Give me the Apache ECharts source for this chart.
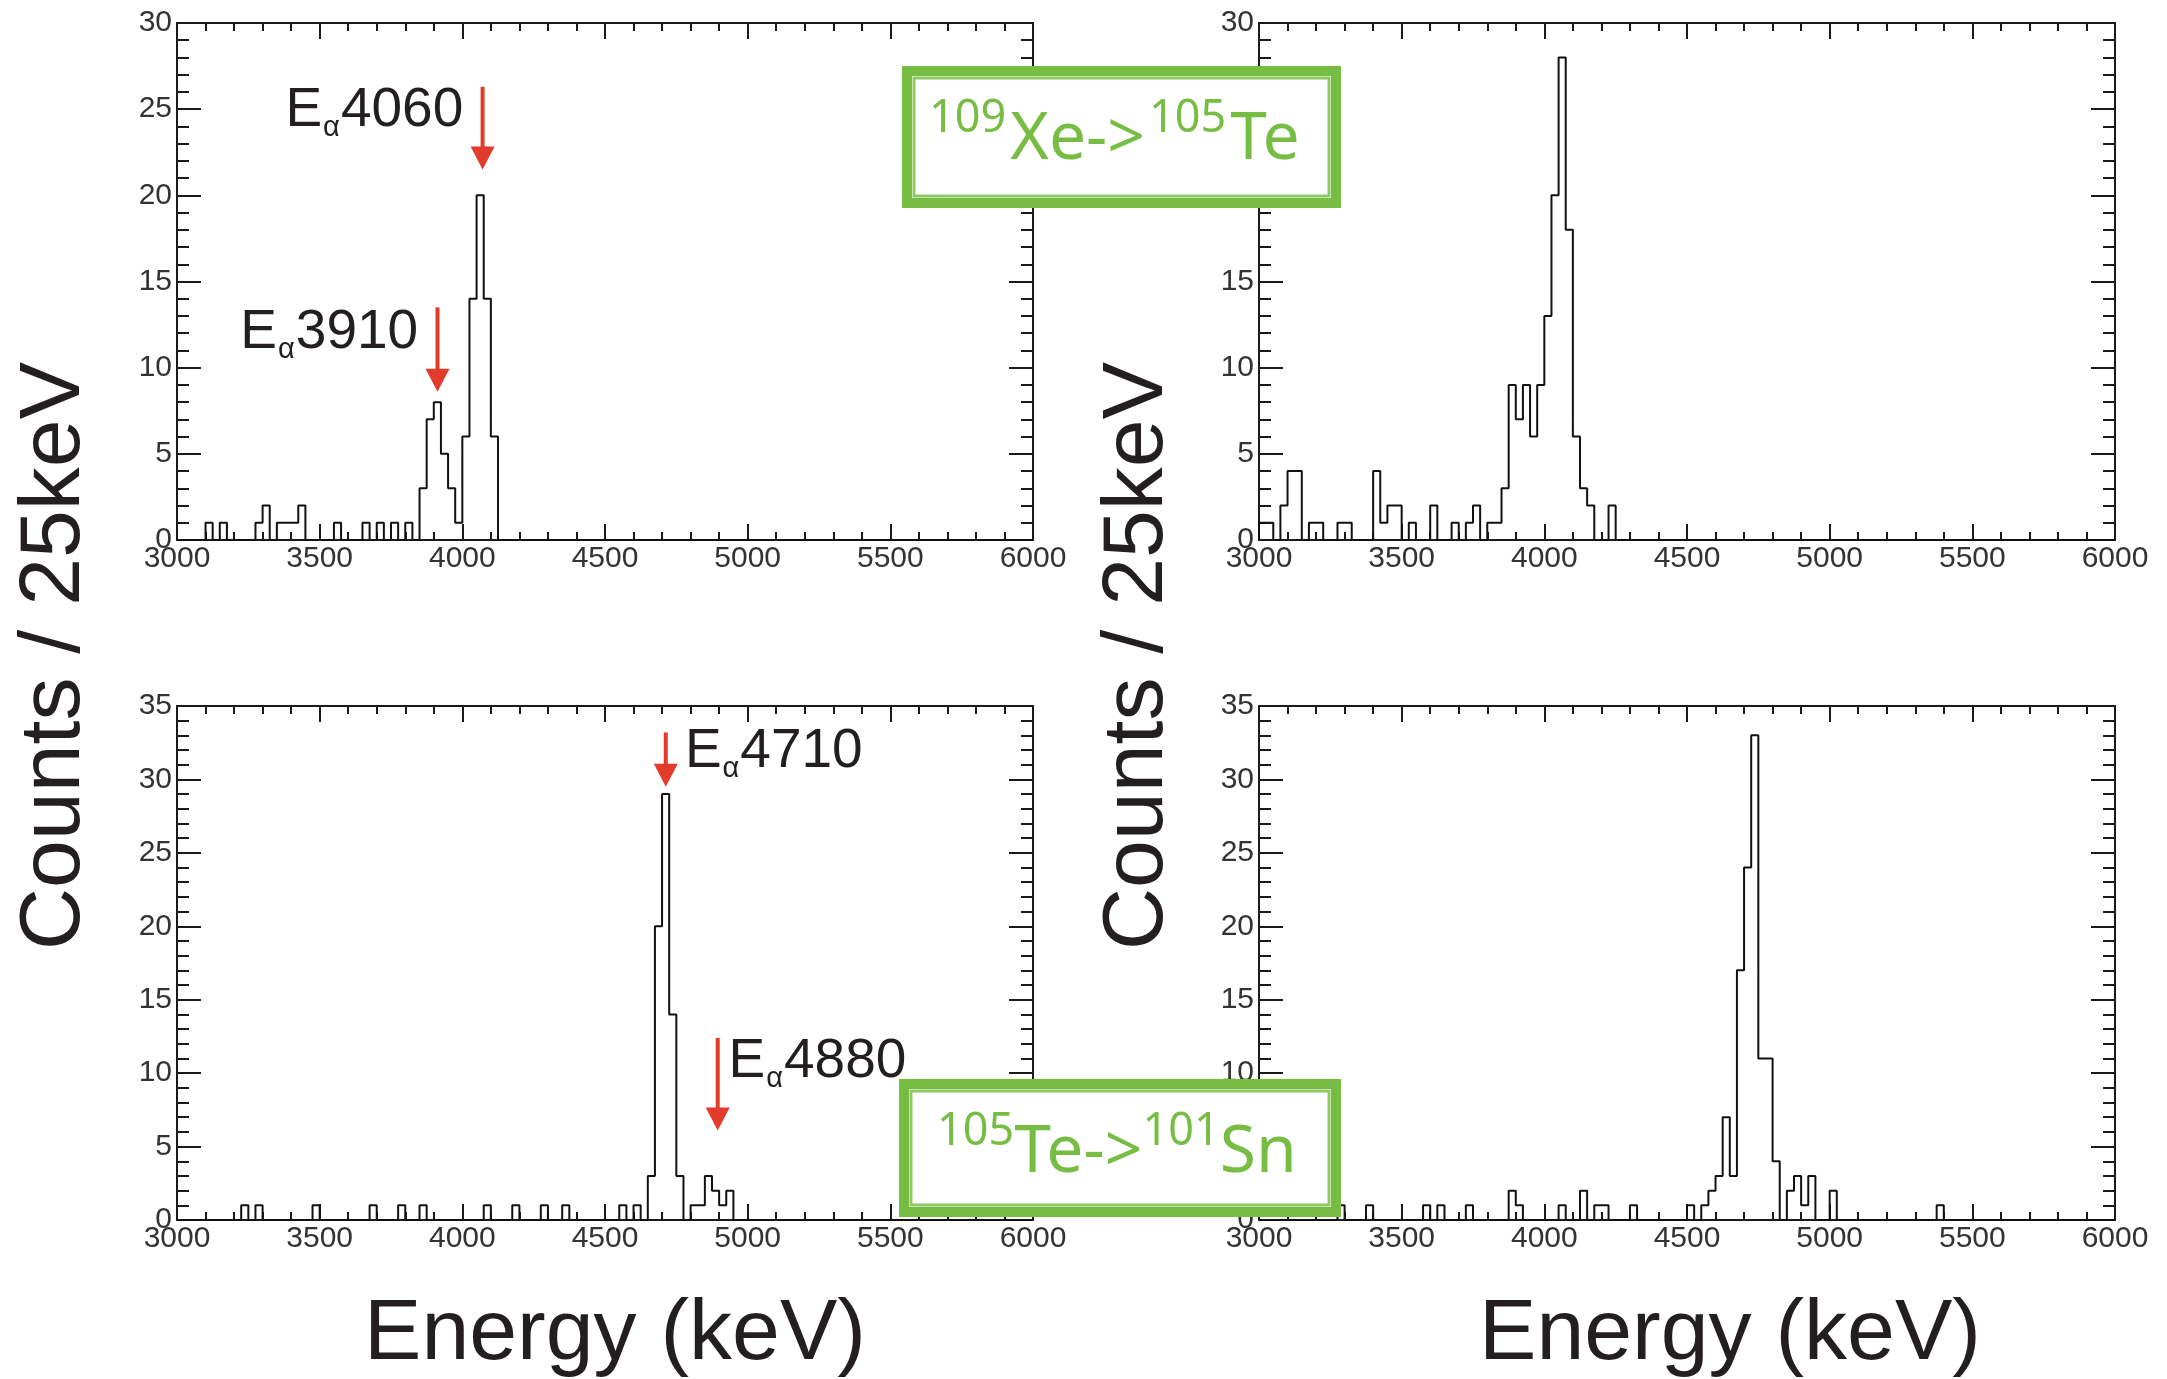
<!DOCTYPE html>
<html><head><meta charset="utf-8">
<script src="https://cdn.jsdelivr.net/npm/echarts@6/dist/echarts.min.js"></script>
<style>html,body{margin:0;padding:0;background:#fff}#c{width:2167px;height:1379px}</style>
</head><body><div id="c"></div>
<script>
// ---------- data ----------
const energyMin = 3000, energyMax = 6000, binWidth = 25;
const xTickStep = 500;
const yMaxTop = 30, yMaxBottom = 35, yTickStep = 5;

// counts per 25 keV bin, 3000..6000 keV (120 bins)
const countsTopLeft = [
  0,0,0,0,1,0,1,0,0,0, 0,1,2,0,1,1,1,2,0,0,
  0,0,1,0,0,0,1,0,1,0, 1,0,1,0,3,7,8,5,3,1,
  6,14,20,14,6,0,0,0,0,0, 0,0,0,0,0,0,0,0,0,0,
  0,0,0,0,0,0,0,0,0,0, 0,0,0,0,0,0,0,0,0,0,
  0,0,0,0,0,0,0,0,0,0, 0,0,0,0,0,0,0,0,0,0,
  0,0,0,0,0,0,0,0,0,0, 0,0,0,0,0,0,0,0,0,0
];
const countsTopRight = [
  1,1,0,2,4,4,0,1,1,0, 0,1,1,0,0,0,4,1,2,2,
  0,1,0,0,2,0,0,1,0,1, 2,0,1,1,3,9,7,9,6,9,
  13,20,28,18,6,3,2,0,0,2, 0,0,0,0,0,0,0,0,0,0,
  0,0,0,0,0,0,0,0,0,0, 0,0,0,0,0,0,0,0,0,0,
  0,0,0,0,0,0,0,0,0,0, 0,0,0,0,0,0,0,0,0,0,
  0,0,0,0,0,0,0,0,0,0, 0,0,0,0,0,0,0,0,0,0
];
const countsBottomLeft = [
  0,0,0,0,0,0,0,0,0,1, 0,1,0,0,0,0,0,0,0,1,
  0,0,0,0,0,0,0,1,0,0, 0,1,0,0,1,0,0,0,0,0,
  0,0,0,1,0,0,0,1,0,0, 0,1,0,0,1,0,0,0,0,0,
  0,0,1,0,1,0,3,20,29,14, 3,0,1,1,3,2,1,2,0,0,
  0,0,0,0,0,0,0,0,0,0, 0,0,0,0,0,0,0,0,0,0,
  0,0,0,0,0,0,0,0,0,0, 0,0,0,0,0,0,0,0,0,0
];
const countsBottomRight = [
  0,0,0,0,0,0,0,0,0,0, 0,1,0,0,0,1,0,0,0,0,
  0,0,0,1,0,1,0,0,0,1, 0,0,0,0,0,2,1,0,0,0,
  0,0,1,0,0,2,0,1,1,0, 0,0,1,0,0,0,0,0,0,0,
  1,0,1,2,3,7,3,17,24,33, 11,11,4,0,2,3,1,3,0,0,
  2,0,0,0,0,0,0,0,0,0, 0,0,0,0,0,1,0,0,0,0,
  0,0,0,0,0,0,0,0,0,0, 0,0,0,0,0,0,0,0,0,0
];

// peak annotations (energy in keV)
const peakLabelsTop = ['4060', '3910'];
const peakLabelPosTop = [[3380, 23.9], [3222, 11.05]];
const peakArrowsTop = [[4071, 26.3, 21.5], [3913, 13.5, 8.6]];
const peakLabelsBottom = ['4710', '4880'];
const peakLabelPosBottom = [[4780, 30.7], [4933, 9.6]];
const peakArrowsBottom = [[4713, 33.2, 29.5], [4895, 12.4, 6.1]];

const yTitle = 'Counts / 25keV';
const xTitle = 'Energy (keV)';
const decayTop = [['109', 'sup'], ['Xe->', 'main'], ['105', 'sup'], ['Te', 'main']];
const decayBottom = [['105', 'sup'], ['Te->', 'main'], ['101', 'sup'], ['Sn', 'main']];

// ---------- helpers ----------
const FONT = '"Liberation Sans", Arial, sans-serif';
const INK = '#231f20';
const RED = '#e33b2b';
const GREEN = '#77bc43';
const mctx = document.createElement('canvas').getContext('2d');
function tw(t, size, fam) { mctx.font = size + 'px ' + fam; return mctx.measureText(t).width; }

function outline(vals) {
  const pts = [[energyMin, 0]];
  vals.forEach((v, i) => {
    const a = energyMin + i * binWidth, b = a + binWidth;
    pts.push([a, v], [b, v]);
  });
  pts.push([energyMax, 0]);
  return pts;
}

const grids = [
  {left: 177, top: 23, width: 856, height: 517},
  {left: 1259, top: 23, width: 856, height: 517},
  {left: 177, top: 706, width: 856, height: 514},
  {left: 1259, top: 706, width: 856, height: 514}
];
const yMaxes = [yMaxTop, yMaxTop, yMaxBottom, yMaxBottom];
const countSets = [countsTopLeft, countsTopRight, countsBottomLeft, countsBottomRight];

const lineC = '#1a1a1a';
const xAxes = [], yAxes = [];
grids.forEach((g, i) => {
  ['bottom', 'top'].forEach(pos => {
    xAxes.push({
      gridIndex: i, type: 'value', position: pos, min: energyMin, max: energyMax, interval: xTickStep,
      axisLine: {show: true, onZero: false, lineStyle: {color: lineC, width: 2}},
      axisTick: {show: true, inside: true, length: 16, lineStyle: {color: lineC, width: 2}},
      minorTick: {show: true, splitNumber: 5, length: 8, lineStyle: {color: lineC, width: 2}},
      splitLine: {show: false}, minorSplitLine: {show: false},
      axisLabel: {show: pos === 'bottom', fontSize: 30, fontFamily: FONT, color: '#333', margin: 4,
        formatter: v => String(v)}
    });
  });
  ['left', 'right'].forEach(pos => {
    yAxes.push({
      gridIndex: i, type: 'value', position: pos, min: 0, max: yMaxes[i], interval: yTickStep,
      axisLine: {show: true, onZero: false, lineStyle: {color: lineC, width: 2}},
      axisTick: {show: true, inside: true, length: 24, lineStyle: {color: lineC, width: 2}},
      minorTick: {show: true, splitNumber: 5, length: 12, lineStyle: {color: lineC, width: 2}},
      splitLine: {show: false}, minorSplitLine: {show: false},
      axisLabel: {show: pos === 'left', fontSize: 30, fontFamily: FONT, color: '#333', margin: 5,
        formatter: v => String(v)}
    });
  });
});

const series = countSets.map((vals, i) => ({
  type: 'line', xAxisIndex: 2 * i, yAxisIndex: 2 * i, data: outline(vals),
  symbol: 'none', lineStyle: {color: '#111', width: 2}, z: 3, silent: true
}));

function arrowSeries(gi, arrows) {
  return {
    type: 'custom', xAxisIndex: 2 * gi, yAxisIndex: 2 * gi, data: arrows, z: 10, silent: true,
    renderItem: (params, api) => {
      const p1 = api.coord([api.value(0), api.value(1)]);
      const p2 = api.coord([api.value(0), api.value(2)]);
      const hw = 12, hh = 23;
      return {type: 'group', children: [
        {type: 'line', shape: {x1: p1[0], y1: p1[1], x2: p2[0], y2: p2[1] - hh + 2}, style: {stroke: RED, lineWidth: 4}},
        {type: 'polygon', shape: {points: [[p2[0] - hw, p2[1] - hh], [p2[0] + hw, p2[1] - hh], [p2[0], p2[1]]]}, style: {fill: RED}}
      ]};
    }
  };
}
function labelSeries(gi, pos, labels) {
  const fs = 55, fsA = 29;
  return {
    type: 'custom', xAxisIndex: 2 * gi, yAxisIndex: 2 * gi, data: pos, z: 10, silent: true,
    renderItem: (params, api) => {
      const p = api.coord([api.value(0), api.value(1)]);
      const wE = tw('E', fs, FONT), wA = tw('\u03b1', fsA, FONT);
      const mid = p[1] - 0.31 * fs;
      return {type: 'group', children: [
        {type: 'text', x: p[0], y: mid, style: {text: 'E', fontSize: fs, fontFamily: FONT, fill: INK, align: 'left', verticalAlign: 'middle'}},
        {type: 'text', x: p[0] + wE + 1, y: p[1] + 9 - 0.31 * fsA, style: {text: '\u03b1', fontSize: fsA, fontFamily: FONT, fill: INK, align: 'left', verticalAlign: 'middle'}},
        {type: 'text', x: p[0] + wE + wA + 2, y: mid, style: {text: labels[params.dataIndex], fontSize: fs, fontFamily: FONT, fill: INK, align: 'left', verticalAlign: 'middle'}}
      ]};
    }
  };
}
series.push(arrowSeries(0, peakArrowsTop), labelSeries(0, peakLabelPosTop, peakLabelsTop));
series.push(arrowSeries(2, peakArrowsBottom), labelSeries(2, peakLabelPosBottom, peakLabelsBottom));

// ---------- decorations ----------
const GFONT = '"Noto Sans", sans-serif';
function decayBox(x0, y0, x1, y1, parts, textX, baseline, gap) {
  const lw = 10;
  const els = [
    {type: 'rect', shape: {x: x0 + lw / 2, y: y0 + lw / 2, width: x1 - x0 - lw, height: y1 - y0 - lw},
     style: {fill: '#fff', stroke: GREEN, lineWidth: lw}, z: 100},
    {type: 'rect', shape: {x: x0 + lw + 2, y: y0 + lw + 2, width: x1 - x0 - 2 * lw - 4, height: y1 - y0 - 2 * lw - 4},
     style: {fill: 'none', stroke: '#8fc963', lineWidth: 3}, z: 100}
  ];
  let cx = textX;
  parts.forEach(([t, kind]) => {
    const fs = kind === 'sup' ? 45 : 66;
    const y = kind === 'sup' ? baseline - 28 - 0.31 * fs : baseline - 0.31 * fs;
    els.push({type: 'text', x: cx, y: y, z: 101,
      style: {text: t, fontSize: fs, fontFamily: GFONT, fill: GREEN, align: 'left', verticalAlign: 'middle'}});
    cx += tw(t, fs, GFONT) + gap;
  });
  return els;
}

const graphics = [];
graphics.push(...decayBox(902, 66, 1341, 208, decayTop, 929, 161, 4));
graphics.push(...decayBox(899, 1079, 1341, 1217, decayBottom, 937, 1174, 0));
[55.5, 1138].forEach(cx => graphics.push({type: 'text', x: cx, y: 656, rotation: Math.PI / 2, z: 50,
  style: {text: yTitle, fontSize: 86, fontFamily: FONT, fill: INK, align: 'center', verticalAlign: 'middle'}}));
[615, 1730].forEach(cx => graphics.push({type: 'text', x: cx, y: 1362 - 0.31 * 86, z: 50,
  style: {text: xTitle, fontSize: 86, fontFamily: FONT, fill: INK, align: 'center', verticalAlign: 'middle'}}));

const chart = echarts.init(document.getElementById('c'), null, {renderer: 'canvas'});
chart.setOption({
  animation: false, backgroundColor: '#fff',
  grid: grids, xAxis: xAxes, yAxis: yAxes, series: series, graphic: graphics
});
</script></body></html>
